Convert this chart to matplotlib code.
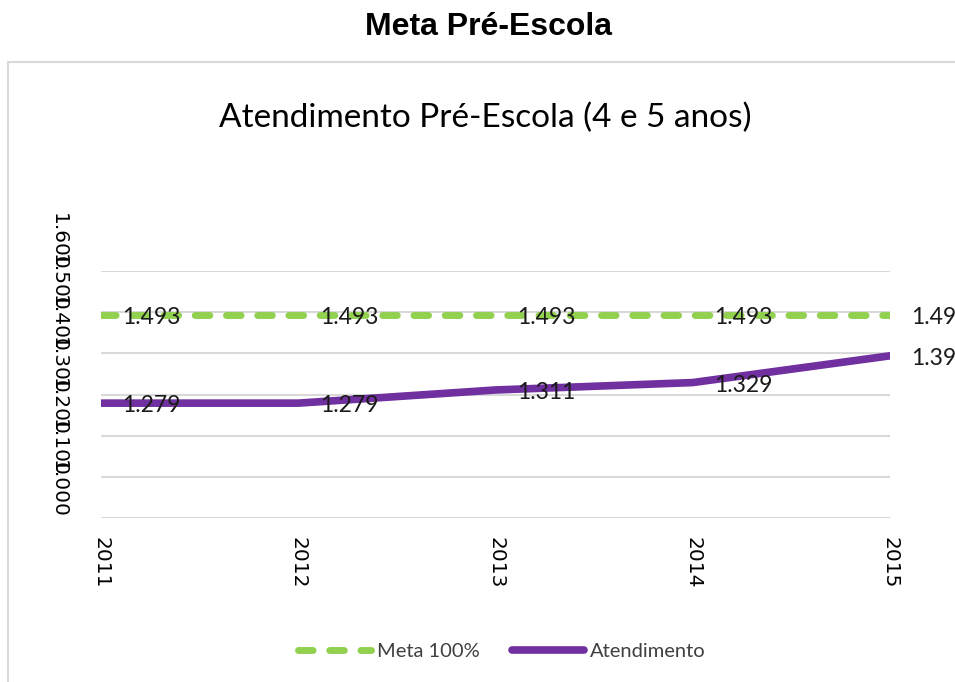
import matplotlib
matplotlib.use("Agg")
import matplotlib.pyplot as plt
from matplotlib.patches import Rectangle

# --- DATI ---
anos = [2011, 2012, 2013, 2014, 2015]
meta = [1493, 1493, 1493, 1493, 1493]
atendimento = [1279, 1279, 1311, 1329, 1394]
y_ticks = [1000, 1100, 1200, 1300, 1400, 1500, 1600]

VERDE = "#92d050"
ROXO = "#7030a0"
GRID = "#d9d9d9"


def fmt(v):
    return f"{v:,}".replace(",", ".")


fig = plt.figure(figsize=(9.55, 6.82), dpi=100)
fig.patch.set_facecolor("white")

# titolo esterno
fig.text(488 / 955, 1 - 27 / 682, "Meta Pré-Escola", ha="center", va="center",
         fontsize=23, fontweight="bold", family="Liberation Sans")

# cornice del grafico
fig.patches.append(Rectangle((8 / 955, -0.05), 1.0, 1 - 62 / 682 + 0.05,
                             transform=fig.transFigure, fill=False,
                             edgecolor=GRID, linewidth=1.5))

fig.text(485 / 955, 1 - 118 / 682, "Atendimento Pré-Escola (4 e 5 anos)",
         ha="center", va="center", fontsize=24, family="Lato", color="#000000")

ax = fig.add_axes([101 / 955, 1 - 518 / 682, (890 - 101) / 955, (518 - 271) / 682])
for s in ax.spines.values():
    s.set_visible(False)

ax.plot(anos, meta, color=VERDE, linewidth=5, dashes=(2.1, 2.4),
        dash_capstyle="round", label="Meta 100%", zorder=3)
ax.plot(anos, atendimento, color=ROXO, linewidth=5.5,
        solid_capstyle="round", label="Atendimento", zorder=3)

# etichette dati a destra dei punti
for x, v in zip(anos, meta):
    ax.annotate(fmt(v), xy=(x, v), xytext=(15.5, -2), textcoords="offset points",
                ha="left", va="center", fontsize=16.5, family="Lato",
                color="#1a1a1a", zorder=4, annotation_clip=False)
for x, v in zip(anos, atendimento):
    ax.annotate(fmt(v), xy=(x, v), xytext=(15.5, -2), textcoords="offset points",
                ha="left", va="center", fontsize=16.5, family="Lato",
                color="#1a1a1a", zorder=4, annotation_clip=False)

ax.set_xlim(anos[0], anos[-1])
ax.set_ylim(y_ticks[0], y_ticks[-1])
ax.set_xticks(anos)
ax.set_xticklabels([str(a) for a in anos], rotation=270, fontsize=14.5,
                   family="DejaVu Sans")
ax.set_yticks(y_ticks)
ax.set_yticklabels([fmt(t) for t in y_ticks], rotation=270, fontsize=14.5,
                   family="DejaVu Sans", va="bottom")
ax.tick_params(axis="x", length=0, pad=14)
ax.tick_params(axis="y", length=0, pad=24)
ax.grid(axis="y", color=GRID, linewidth=1.5)
ax.set_axisbelow(True)

leg = fig.legend(loc="center", bbox_to_anchor=(502 / 955, 1 - 651 / 682), ncol=2,
                 frameon=False, prop={"family": "Lato", "size": 14.5},
                 handlelength=3.6, handletextpad=0.3, columnspacing=1.6)
for t in leg.get_texts():
    t.set_color("#404040")

fig.savefig("out.png", dpi=100)
